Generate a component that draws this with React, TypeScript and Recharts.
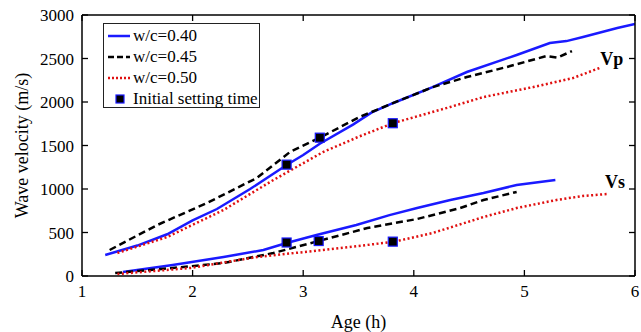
import React from 'react';
import { ComposedChart, Line, Scatter, XAxis, YAxis, ReferenceDot } from 'recharts';

const ageTicks = [1, 2, 3, 4, 5, 6];
const velTicks = [0, 500, 1000, 1500, 2000, 2500, 3000];

const vp40Age = [1.21, 1.5, 1.77, 2.0, 2.22, 2.52, 2.85, 3.0, 3.15, 3.45, 3.62, 3.81, 4.17, 4.48, 4.93, 5.23, 5.38, 5.53, 5.84, 6.0];
const vp40Vel = [241, 350, 480, 640, 770, 1000, 1276, 1390, 1520, 1740, 1880, 1986, 2172, 2345, 2540, 2678, 2700, 2747, 2850, 2897];
const vp45Age = [1.25, 1.68, 2.13, 2.58, 2.88, 3.15, 3.51, 3.81, 4.17, 4.48, 4.84, 5.2, 5.3, 5.43];
const vp45Vel = [299, 586, 839, 1126, 1425, 1590, 1828, 1986, 2170, 2287, 2402, 2529, 2510, 2586];
const vp50Age = [1.32, 1.77, 2.28, 2.73, 3.18, 3.5, 3.81, 4.33, 4.63, 5.08, 5.44, 5.68];
const vp50Vel = [264, 448, 759, 1103, 1425, 1600, 1756, 1943, 2057, 2172, 2276, 2391];

const vs40Age = [1.37, 1.82, 2.28, 2.64, 2.85, 3.12, 3.48, 3.78, 4.03, 4.33, 4.63, 4.93, 5.28];
const vs40Vel = [46, 126, 218, 299, 379, 471, 586, 700, 781, 874, 954, 1046, 1103];
const vs45Age = [1.3, 1.82, 2.28, 2.73, 3.14, 3.58, 4.03, 4.42, 4.63, 4.93];
const vs45Vel = [34, 92, 149, 264, 402, 552, 655, 781, 874, 966];
const vs50Age = [1.32, 1.98, 2.58, 3.18, 3.81, 4.17, 4.63, 4.93, 5.29, 5.53, 5.76];
const vs50Vel = [23, 92, 218, 299, 391, 494, 678, 781, 874, 920, 943];

const setAge = [2.85, 3.15, 3.81, 2.85, 3.14, 3.81];
const setVel = [1280, 1590, 1756, 385, 402, 395];

const zip = (a: number[], v: number[]) => a.map((x, i) => ({ age: x, vel: v[i] }));

const FONT = '"Liberation Serif", "Times New Roman", serif';
const BLUE = '#1a1aff';
const RED = '#e01010';

const Square = (props: any) => {
  const { cx, cy } = props;
  return <rect x={cx - 4.5} y={cy - 4.5} width={9} height={9} fill="#000" stroke={BLUE} strokeWidth={1.2} />;
};

const BottomTick = (props: any) => {
  const { x, y, payload } = props;
  return (
    <g>
      <line x1={x} y1={y} x2={x} y2={y - 6} stroke="#000" strokeWidth={1.3} />
      <text x={x} y={y + 21} textAnchor="middle" fontFamily={FONT} fontSize={17} fill="#000">{payload.value}</text>
    </g>
  );
};
const TopTick = (props: any) => {
  const { x, y } = props;
  return <line x1={x} y1={y} x2={x} y2={y + 6} stroke="#000" strokeWidth={1.3} />;
};
const LeftTick = (props: any) => {
  const { x, y, payload } = props;
  return (
    <g>
      <line x1={x} y1={y} x2={x + 6} y2={y} stroke="#000" strokeWidth={1.3} />
      <text x={x - 8} y={y + 6} textAnchor="end" fontFamily={FONT} fontSize={17} fill="#000">{payload.value}</text>
    </g>
  );
};
const RightTick = (props: any) => {
  const { x, y } = props;
  return <line x1={x} y1={y} x2={x - 6} y2={y} stroke="#000" strokeWidth={1.3} />;
};

export default function App() {
  return (
    <div style={{ position: 'absolute', left: 0, top: 0, width: 641, height: 332, background: '#fff', fontFamily: FONT }}>
      <ComposedChart width={641} height={332} margin={{ top: 14, right: 5, bottom: 0, left: 22 }} style={{ fontFamily: FONT }}>
        <XAxis xAxisId="b" type="number" dataKey="age" domain={[1, 6]} ticks={ageTicks} allowDataOverflow interval={0}
          height={56} tickSize={0} tickMargin={0} tick={<BottomTick />} tickLine={false}
          stroke="#000" strokeWidth={1.5}
          label={{ value: 'Age (h)', position: 'insideBottom', offset: 4, style: { fontFamily: FONT, fontSize: 18, fill: '#000' } }} />
        <XAxis xAxisId="t" type="number" orientation="top" dataKey="age" domain={[1, 6]} ticks={ageTicks} allowDataOverflow interval={0}
          height={1} tickSize={0} tickMargin={0} tick={<TopTick />} tickLine={false} stroke="#000" strokeWidth={1.5} />
        <YAxis yAxisId="l" type="number" dataKey="vel" domain={[0, 3000]} ticks={velTicks} allowDataOverflow interval={0}
          width={60} tickSize={0} tickMargin={0} tick={<LeftTick />} tickLine={false} stroke="#000" strokeWidth={1.5}
          label={{ value: 'Wave velocity (m/s)', angle: -90, position: 'insideLeft', offset: 0, style: { fontFamily: FONT, fontSize: 18, fill: '#000', textAnchor: 'middle' } }} />
        <YAxis yAxisId="r" type="number" orientation="right" dataKey="vel" domain={[0, 3000]} ticks={velTicks} allowDataOverflow interval={0}
          width={1} tickSize={0} tickMargin={0} tick={<RightTick />} tickLine={false} stroke="#000" strokeWidth={1.5} />

        {/* invisible series so the mirrored top/right frame axes are drawn */}
        <Line xAxisId="t" yAxisId="r" data={zip(setAge, setVel)} dataKey="vel" stroke="none" strokeWidth={0} dot={false} activeDot={false} legendType="none" isAnimationActive={false} />

        <Line xAxisId="b" yAxisId="l" data={zip(vp40Age, vp40Vel)} dataKey="vel" stroke={BLUE} strokeWidth={2.5} dot={false} isAnimationActive={false} type="linear" />
        <Line xAxisId="b" yAxisId="l" data={zip(vp45Age, vp45Vel)} dataKey="vel" stroke="#000" strokeWidth={2.5} strokeDasharray="7 4" dot={false} isAnimationActive={false} type="linear" />
        <Line xAxisId="b" yAxisId="l" data={zip(vp50Age, vp50Vel)} dataKey="vel" stroke={RED} strokeWidth={2.5} strokeDasharray="2 2.5" dot={false} isAnimationActive={false} type="linear" />
        <Line xAxisId="b" yAxisId="l" data={zip(vs40Age, vs40Vel)} dataKey="vel" stroke={BLUE} strokeWidth={2.5} dot={false} isAnimationActive={false} type="linear" />
        <Line xAxisId="b" yAxisId="l" data={zip(vs45Age, vs45Vel)} dataKey="vel" stroke="#000" strokeWidth={2.5} strokeDasharray="7 4" dot={false} isAnimationActive={false} type="linear" />
        <Line xAxisId="b" yAxisId="l" data={zip(vs50Age, vs50Vel)} dataKey="vel" stroke={RED} strokeWidth={2.5} strokeDasharray="2 2.5" dot={false} isAnimationActive={false} type="linear" />
        <Scatter xAxisId="b" yAxisId="l" data={zip(setAge, setVel)} dataKey="vel" shape={<Square />} isAnimationActive={false} />

        <ReferenceDot xAxisId="b" yAxisId="l" x={5.79} y={2494} r={0} fill="none" stroke="none" ifOverflow="visible"
          label={{ value: 'Vp', position: 'center', style: { fontFamily: FONT, fontSize: 18, fontWeight: 'bold', fill: '#000' } }} />
        <ReferenceDot xAxisId="b" yAxisId="l" x={5.82} y={1080} r={0} fill="none" stroke="none" ifOverflow="visible"
          label={{ value: 'Vs', position: 'center', style: { fontFamily: FONT, fontSize: 18, fontWeight: 'bold', fill: '#000' } }} />
      </ComposedChart>

      <div style={{ position: 'absolute', left: 103, top: 23, width: 155, height: 83, border: '1.5px solid #222', background: '#fff', fontFamily: FONT, fontSize: 17, color: '#000' }}>
        {[
          { label: 'w/c=0.40', color: BLUE, dash: '' },
          { label: 'w/c=0.45', color: '#000', dash: '6 3' },
          { label: 'w/c=0.50', color: RED, dash: '2 2' },
        ].map((it, i) => (
          <div key={i} style={{ position: 'absolute', left: 4, top: 1 + i * 21, height: 21, display: 'flex', alignItems: 'center', whiteSpace: 'nowrap' }}>
            <svg width={22} height={10} style={{ marginRight: 3 }}>
              <line x1={0} y1={5} x2={22} y2={5} stroke={it.color} strokeWidth={2.5} strokeDasharray={it.dash || undefined} />
            </svg>
            <span>{it.label}</span>
          </div>
        ))}
        <div style={{ position: 'absolute', left: 4, top: 64, height: 21, display: 'flex', alignItems: 'center', whiteSpace: 'nowrap' }}>
          <svg width={22} height={12} style={{ marginRight: 3 }}>
            <rect x={8} y={2} width={8} height={8} fill="#000" stroke={BLUE} strokeWidth={1.2} />
          </svg>
          <span>Initial setting time</span>
        </div>
      </div>
    </div>
  );
}
